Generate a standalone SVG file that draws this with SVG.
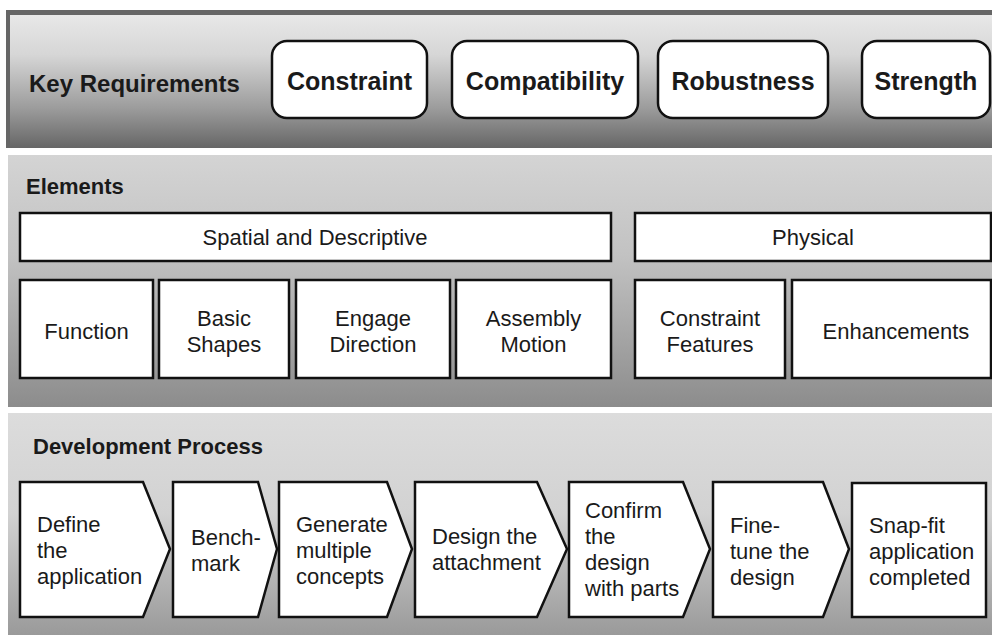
<svg xmlns="http://www.w3.org/2000/svg" width="992" height="635" viewBox="0 0 992 635">
<defs>
<linearGradient id="gTop" x1="0" y1="0" x2="0" y2="1">
<stop offset="0" stop-color="#e8e8e8"/>
<stop offset="0.3" stop-color="#d6d6d6"/>
<stop offset="0.7" stop-color="#9c9c9c"/>
<stop offset="1" stop-color="#666666"/>
</linearGradient>
<linearGradient id="gMid" x1="0" y1="0" x2="0" y2="1">
<stop offset="0" stop-color="#d4d4d4"/>
<stop offset="0.4" stop-color="#c2c2c2"/>
<stop offset="1" stop-color="#8c8c8c"/>
</linearGradient>
<linearGradient id="gBot" x1="0" y1="0" x2="0" y2="1">
<stop offset="0" stop-color="#dcdcdc"/>
<stop offset="0.45" stop-color="#d2d2d2"/>
<stop offset="1" stop-color="#9a9a9a"/>
</linearGradient>
</defs>
<style>
.box{fill:#ffffff;stroke:#111111;stroke-width:2.5}
.hdr{font-family:"Liberation Sans",Arial,sans-serif;font-weight:bold;fill:#1a1a1a}
.req{font-family:"Liberation Sans",Arial,sans-serif;font-weight:bold;font-size:25px;fill:#1a1a1a;text-anchor:middle}
.lbl{font-family:"Liberation Sans",Arial,sans-serif;font-size:22px;fill:#1a1a1a}
.c{text-anchor:middle}
</style>
<rect width="992" height="635" fill="#ffffff"/>
<g id="panel-key">
<rect x="6" y="10" width="986" height="138" fill="#666666"/>
<rect x="10" y="15" width="982" height="133" fill="url(#gTop)"/>
<text class="hdr" x="29" y="92" font-size="24">Key Requirements</text>
</g>
<g id="panel-elements">
<rect x="8" y="155" width="984" height="252" fill="url(#gMid)"/>
<text class="hdr" x="26" y="194" font-size="22">Elements</text>
</g>
<g id="panel-process">
<rect x="8" y="413" width="984" height="222" fill="url(#gBot)"/>
<text class="hdr" x="33" y="454" font-size="22">Development Process</text>
</g>
<g id="req-constraint"><rect class="box" x="272" y="41" width="155" height="77" rx="15"/><text class="req" x="349.5" y="90">Constraint</text></g>
<g id="req-compatibility"><rect class="box" x="452" y="41" width="186" height="77" rx="15"/><text class="req" x="545" y="90">Compatibility</text></g>
<g id="req-robustness"><rect class="box" x="658" y="41" width="170" height="77" rx="15"/><text class="req" x="743" y="90">Robustness</text></g>
<g id="req-strength"><rect class="box" x="862" y="41" width="128" height="77" rx="15"/><text class="req" x="926" y="90">Strength</text></g>
<g id="el-spatial"><rect class="box" x="20" y="213" width="591" height="48"/><text class="lbl c" x="315" y="245">Spatial and Descriptive</text></g>
<g id="el-physical"><rect class="box" x="635" y="213" width="356" height="48"/><text class="lbl c" x="813" y="245">Physical</text></g>
<g id="el-function"><rect class="box" x="20" y="280" width="133" height="98"/><text class="lbl c" x="86.5" y="339">Function</text></g>
<g id="el-basic"><rect class="box" x="159" y="280" width="130" height="98"/><text class="lbl c" x="224" y="326">Basic</text><text class="lbl c" x="224" y="352">Shapes</text></g>
<g id="el-engage"><rect class="box" x="296" y="280" width="154" height="98"/><text class="lbl c" x="373" y="326">Engage</text><text class="lbl c" x="373" y="352">Direction</text></g>
<g id="el-assembly"><rect class="box" x="456" y="280" width="155" height="98"/><text class="lbl c" x="533.5" y="326">Assembly</text><text class="lbl c" x="533.5" y="352">Motion</text></g>
<g id="el-constraint"><rect class="box" x="635" y="280" width="150" height="98"/><text class="lbl c" x="710" y="326">Constraint</text><text class="lbl c" x="710" y="352">Features</text></g>
<g id="el-enh"><rect class="box" x="792" y="280" width="199" height="98"/><text class="lbl c" x="896" y="339">Enhancements</text></g>
<g id="p-define"><path class="box" d="M20,482 H143 L170,549 L143,617 H20 Z"/><text class="lbl" x="37" y="532">Define</text><text class="lbl" x="37" y="558">the</text><text class="lbl" x="37" y="584">application</text></g>
<g id="p-bench"><path class="box" d="M173,482 H258 L277,549 L258,617 H173 Z"/><text class="lbl" x="191" y="545">Bench-</text><text class="lbl" x="191" y="571">mark</text></g>
<g id="p-generate"><path class="box" d="M279,482 H387 L412,549 L387,617 H279 Z"/><text class="lbl" x="296" y="532">Generate</text><text class="lbl" x="296" y="558">multiple</text><text class="lbl" x="296" y="584">concepts</text></g>
<g id="p-design"><path class="box" d="M415,482 H537 L567,549 L537,617 H415 Z"/><text class="lbl" x="432" y="544">Design the</text><text class="lbl" x="432" y="570">attachment</text></g>
<g id="p-confirm"><path class="box" d="M569,482 H683 L710,549 L683,617 H569 Z"/><text class="lbl" x="585" y="518">Confirm</text><text class="lbl" x="585" y="544">the</text><text class="lbl" x="585" y="570">design</text><text class="lbl" x="585" y="596">with parts</text></g>
<g id="p-finetune"><path class="box" d="M713,482 H823 L849,549 L823,617 H713 Z"/><text class="lbl" x="730" y="533">Fine-</text><text class="lbl" x="730" y="559">tune the</text><text class="lbl" x="730" y="585">design</text></g>
<g id="p-snapfit"><rect class="box" x="852" y="483" width="134" height="134"/><text class="lbl" x="869" y="533">Snap-fit</text><text class="lbl" x="869" y="559">application</text><text class="lbl" x="869" y="585">completed</text></g>
<g id="connectors"></g>
</svg>
